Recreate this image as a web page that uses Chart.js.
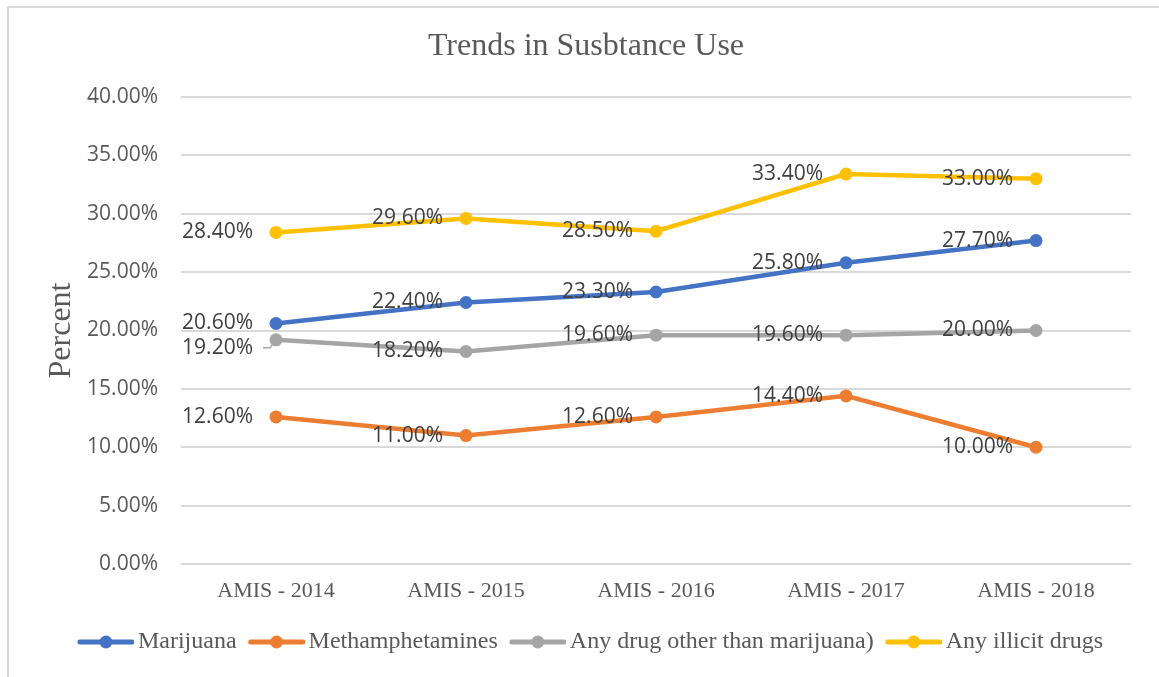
<!DOCTYPE html>
<html>
<head>
<meta charset="utf-8">
<title>Trends in Susbtance Use</title>
<script src="https://cdn.jsdelivr.net/npm/chart.js@4/dist/chart.umd.min.js"></script>
<style>
  html, body { margin: 0; padding: 0; background: #ffffff; overflow: hidden; }
  #frame {
    position: absolute; left: 7px; top: 6px;
    width: 1300px; height: 800px;
    border: 2px solid #d9d9d9;
  }
  #trendChart { position: absolute; left: 0; top: 0; }
</style>
</head>
<body>
<div id="frame"></div>
<canvas id="trendChart" width="1159" height="677"></canvas>
<script>
// survey years on the x axis
const categories = ['AMIS - 2014', 'AMIS - 2015', 'AMIS - 2016', 'AMIS - 2017', 'AMIS - 2018'];

// percent values per series
const marijuana = [20.6, 22.4, 23.3, 25.8, 27.7];
const methamphetamines = [12.6, 11.0, 12.6, 14.4, 10.0];
const otherDrugs = [19.2, 18.2, 19.6, 19.6, 20.0];
const illicitDrugs = [28.4, 29.6, 28.5, 33.4, 33.0];

const seriesNames = ['Marijuana', 'Methamphetamines', 'Any drug other than marijuana)', 'Any illicit drugs'];
const seriesColours = ['#4472c4', '#ed7d31', '#a5a5a5', '#ffc000'];

const SANS = '"Open Sans", "Liberation Sans", sans-serif';
const SERIF = '"Liberation Serif", "DejaVu Serif", serif';

// legend icon: a short line with a dot in the middle.
// the canvas is wider than the legend box so the line sits close to the text
function makeLegendIcon(colour) {
    const c = document.createElement('canvas');
    c.width = 73;
    c.height = 16;
    const g = c.getContext('2d');
    g.strokeStyle = colour;
    g.lineWidth = 5;
    g.lineCap = 'round';
    g.beginPath();
    g.moveTo(19, 8);
    g.lineTo(71, 8);
    g.stroke();
    g.fillStyle = colour;
    g.beginPath();
    g.arc(45, 8, 6.5, 0, Math.PI * 2);
    g.fill();
    return c;
}
const legendIcons = seriesColours.map(makeLegendIcon);

// a few labels were pushed down by Excel to avoid overlaps
const labelShift = { 2: { 0: 8 } };

// draws the value next to each point (left side)
const valueLabels = {
    id: 'valueLabels',
    afterDatasetsDraw(chart) {
        const ctx = chart.ctx;
        ctx.save();
        ctx.font = '21px ' + SANS;
        ctx.fillStyle = '#404040';
        ctx.textAlign = 'right';
        ctx.textBaseline = 'middle';
        chart.data.datasets.forEach((ds, i) => {
            chart.getDatasetMeta(i).data.forEach((pt, j) => {
                const dy = (labelShift[i] && labelShift[i][j]) || 0;
                ctx.fillText(ds.data[j].toFixed(2) + '%', pt.x - 23, pt.y + dy);
                if (dy) {
                    // little leader line for the moved label
                    ctx.strokeStyle = '#a6a6a6';
                    ctx.lineWidth = 1.5;
                    ctx.beginPath();
                    ctx.moveTo(pt.x - 13, pt.y + dy);
                    ctx.lineTo(pt.x - 6, pt.y + dy);
                    ctx.lineTo(pt.x - 4, pt.y + 5);
                    ctx.stroke();
                }
            });
        });
        ctx.restore();
    }
};

const seriesData = [marijuana, methamphetamines, otherDrugs, illicitDrugs];
const datasets = seriesData.map((values, i) => ({
    label: seriesNames[i],
    data: values,
    borderColor: seriesColours[i],
    backgroundColor: seriesColours[i],
    borderWidth: 4.5,
    pointRadius: 6.5,
    pointBorderWidth: 0,
    pointBackgroundColor: seriesColours[i],
    tension: 0
}));

const ctx = document.getElementById('trendChart').getContext('2d');
new Chart(ctx, {
    type: 'line',
    data: { labels: categories, datasets: datasets },
    plugins: [valueLabels],
    options: {
        responsive: false,
        animation: false,
        events: [],
        layout: { padding: { left: 41, right: 28, top: 0, bottom: 13 } },
        plugins: {
            title: {
                display: true,
                text: 'Trends in Susbtance Use',
                color: '#595959',
                font: { family: SERIF, size: 32, weight: 'normal' },
                padding: { top: 27, bottom: 31.6 }
            },
            legend: {
                position: 'bottom',
                labels: {
                    usePointStyle: true,
                    pointStyleWidth: 57,
                    padding: 3,
                    color: '#595959',
                    font: { family: SERIF, size: 24 },
                    generateLabels(chart) {
                        const items = Chart.defaults.plugins.legend.labels.generateLabels(chart);
                        items.forEach(item => { item.pointStyle = legendIcons[item.datasetIndex]; });
                        return items;
                    }
                }
            },
            tooltip: { enabled: false }
        },
        scales: {
            x: {
                offset: true,
                grid: { display: false, drawTicks: false },
                border: { display: false },
                ticks: {
                    color: '#595959',
                    padding: 14,
                    font: { family: SERIF, size: 22 }
                },
                afterFit(scale) { scale.height = 63; }
            },
            y: {
                min: 0,
                max: 40,
                grid: { color: '#d9d9d9', lineWidth: 2, drawTicks: false },
                border: { display: false },
                ticks: {
                    stepSize: 5,
                    padding: 23,
                    color: '#595959',
                    font: { family: SANS, size: 21 },
                    callback: value => value.toFixed(2) + '%'
                },
                title: {
                    display: true,
                    text: 'Percent',
                    color: '#595959',
                    font: { family: SERIF, size: 32 },
                    padding: { top: 1.8, bottom: 0 }
                },
                afterFit(scale) { scale.width = 181 - 41; }
            }
        }
    }
});
</script>
</body>
</html>
